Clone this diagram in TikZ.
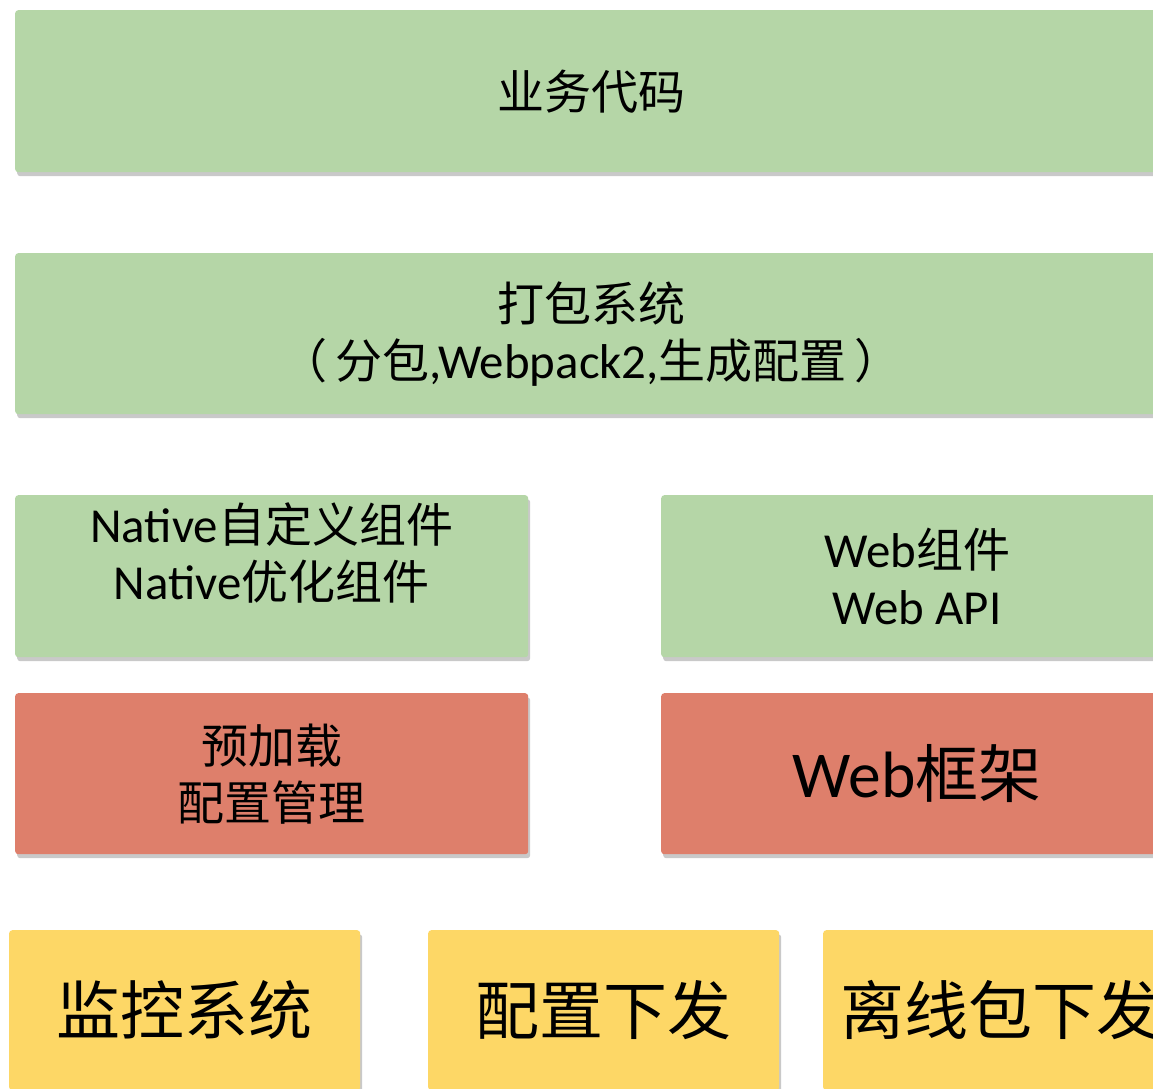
\documentclass[tikz,border=0pt]{standalone}
\usepackage{fontspec}
\setmainfont[Scale=1.04]{Carlito}
\newfontfamily\cjk{Noto Sans CJK SC}
\usetikzlibrary{shadows}
\definecolor{gbox}{HTML}{B5D6A7}
\definecolor{rbox}{HTML}{DE7F6B}
\definecolor{ybox}{HTML}{FDD766}
\tikzset{
  blk/.style={rectangle, rounded corners=3pt, draw=none, anchor=north west, align=center, text=black, inner sep=0pt,
    drop shadow={shadow xshift=2pt, shadow yshift=-4pt, opacity=0.35, fill=black!60}},
  gblk/.style={blk, fill=gbox, font=\fontsize{47}{57}\selectfont},
  rblk/.style={blk, fill=rbox, font=\fontsize{47}{57}\selectfont},
  yblk/.style={blk, fill=ybox, font=\fontsize{64}{70}\selectfont},
}
\begin{document}
\begin{tikzpicture}[x=1pt,y=-1pt]
\useasboundingbox (0,0) rectangle (1153,1088);
\clip (0,0) rectangle (1153,1088);
\fill[white] (0,0) rectangle (1153,1088);
\node[gblk, minimum width=1152pt, minimum height=162pt] (biz) at (15,10) {\cjk 业务代码};
\node[gblk, minimum width=1152pt, minimum height=161pt] (pack) at (15,253) {{\cjk 打包系统}\\{\cjk （\hspace{8pt}分包}{,Webpack2,}{\cjk 生成配置\hspace{8pt}）}};
\node[gblk, minimum width=513pt, minimum height=162pt] (native) at (15,495) {Native{\cjk 自定义组件}\\Native{\cjk 优化组件}\\[-6pt]{}};
\node[gblk, minimum width=512pt, minimum height=162pt] (webc) at (661,495) {Web{\cjk 组件}\\Web API};
\node[rblk, minimum width=513pt, minimum height=161pt] (pre) at (15,693) {{\cjk 预加载}\\{\cjk 配置管理}};
\node[rblk, minimum width=512pt, minimum height=161pt, font=\fontsize{63}{70}\selectfont] (webf) at (661,693) {Web{\cjk 框架}};
\node[yblk, minimum width=351pt, minimum height=160pt] (mon) at (9,930) {\cjk 监控系统};
\node[yblk, minimum width=351pt, minimum height=160pt] (cfg) at (428,930) {\cjk 配置下发};
\node[yblk, minimum width=354pt, minimum height=160pt] (off) at (823,930) {\cjk 离线包下发};
\end{tikzpicture}
\end{document}
